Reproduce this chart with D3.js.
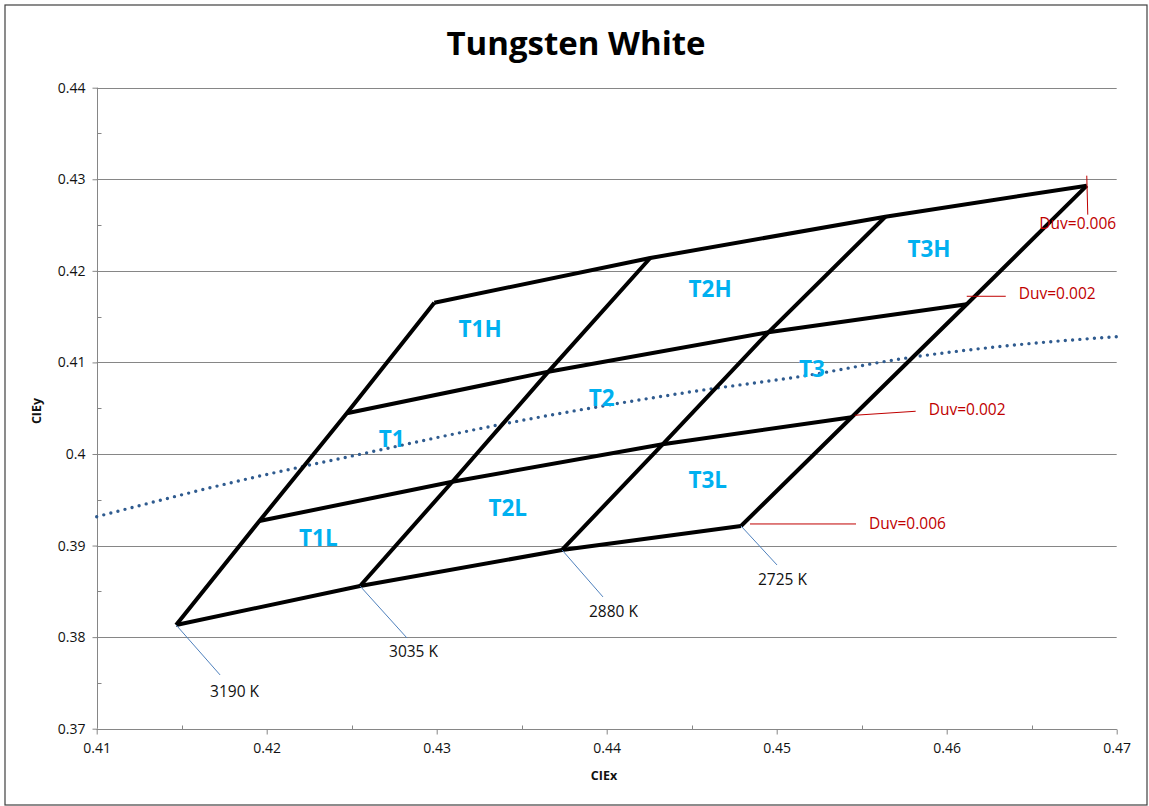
<!DOCTYPE html>
<html>
<head>
<meta charset="utf-8">
<script src="https://cdn.jsdelivr.net/npm/d3@7"></script>
<style>
  html, body { margin: 0; padding: 0; background: #fff; }
  svg { display: block; }
</style>
</head>
<body>
<svg id="chart" width="1149" height="806"></svg>
<script>
// ---- data ----
const title = "Tungsten White";
const xTicks = [0.41, 0.42, 0.43, 0.44, 0.45, 0.46, 0.47];
const xTickLabels = ["0.41", "0.42", "0.43", "0.44", "0.45", "0.46", "0.47"];
const yTicks = [0.37, 0.38, 0.39, 0.40, 0.41, 0.42, 0.43, 0.44];
const yTickLabels = ["0.37", "0.38", "0.39", "0.4", "0.41", "0.42", "0.43", "0.44"];

const ccts = ["3190 K", "3035 K", "2880 K", "2725 K"];
const duvRows = ["-0.006", "-0.002", "+0.002", "+0.006"];
// CIE x / y of grid vertices, rows = Duv, columns = CCT
const gridX = [
  [0.41467, 0.42549, 0.43737, 0.44790],
  [0.41957, 0.43092, 0.44329, 0.45441],
  [0.42471, 0.43657, 0.44951, 0.46118],
  [0.42986, 0.44256, 0.45639, 0.46824]
];
const gridY = [
  [0.38133, 0.38558, 0.38952, 0.39214],
  [0.39268, 0.39697, 0.40106, 0.40401],
  [0.40444, 0.40899, 0.41329, 0.41635],
  [0.41652, 0.42140, 0.42591, 0.42930]
];

// Planckian locus (dotted)
const locusX = [0.41, 0.41902, 0.42549, 0.43362, 0.44500, 0.45196, 0.45725, 0.46400, 0.47];
const locusY = [0.39315, 0.39735, 0.39997, 0.40317, 0.40680, 0.40863, 0.41037, 0.41190, 0.41281];

// bin labels
const binNames = ["T1H", "T2H", "T3H", "T1", "T2", "T3", "T1L", "T2L", "T3L"];
const binX = [0.43255, 0.44608, 0.45896, 0.42735, 0.43971, 0.45208, 0.42304, 0.43418, 0.44594];
const binY = [0.41362, 0.41802, 0.42235, 0.40160, 0.40608, 0.40928, 0.39079, 0.39407, 0.39716];

// Duv annotations
const duvLabels = ["Duv=0.006", "Duv=0.002", "Duv=0.002", "Duv=0.006"];

// ---- layout ----
const svg = d3.select("#chart");
const plot = { left: 96.7, right: 1116.7, top: 87.7, bottom: 728.7 };

const x = d3.scaleLinear().domain([0.41, 0.47]).range([plot.left, plot.right]);
const y = d3.scaleLinear().domain([0.37, 0.44]).range([plot.bottom, plot.top]);

const axisColor = "#868686";
const fontFam = "'Open Sans', 'Noto Sans', sans-serif";

// outer border
svg.append("rect")
  .attr("x", 5).attr("y", 5).attr("width", 1142).attr("height", 800)
  .attr("fill", "#fff").attr("stroke", "#404040").attr("stroke-width", 1.2);

// title
svg.append("text")
  .attr("x", 576).attr("y", 55)
  .attr("text-anchor", "middle")
  .attr("font-family", fontFam).attr("font-weight", 700).attr("font-size", 33)
  .attr("fill", "#000")
  .text(title);

// gridlines (horizontal)
svg.append("g").selectAll("line").data(yTicks).join("line")
  .attr("x1", plot.left).attr("x2", plot.right)
  .attr("y1", d => Math.round(y(d)) + 0.5).attr("y2", d => Math.round(y(d)) + 0.5)
  .attr("stroke", axisColor).attr("stroke-width", 1);

// y axis
const yAxis = d3.axisLeft(y).tickValues(yTicks)
  .tickFormat((d, i) => yTickLabels[i]).tickSize(5).tickPadding(7);
const gy = svg.append("g").attr("transform", `translate(${Math.round(plot.left) + 0.5},0)`).call(yAxis);
gy.select(".domain").attr("stroke", axisColor).attr("d", `M0,${plot.top}V${plot.bottom}`);
gy.selectAll(".tick line").attr("stroke", axisColor);
gy.selectAll(".tick text").attr("font-family", fontFam).attr("font-size", 14).attr("fill", "#111");
// y minor ticks (inside)
const yMinor = d3.range(0.375, 0.44, 0.01);
svg.append("g").selectAll("line").data(yMinor).join("line")
  .attr("x1", Math.round(plot.left) + 0.5).attr("x2", Math.round(plot.left) + 4.5)
  .attr("y1", d => Math.round(y(d)) + 0.5).attr("y2", d => Math.round(y(d)) + 0.5)
  .attr("stroke", axisColor);

// x axis
const xAxis = d3.axisBottom(x).tickValues(xTicks)
  .tickFormat((d, i) => xTickLabels[i]).tickSize(5).tickPadding(9);
const gx = svg.append("g").attr("transform", `translate(0,${Math.round(plot.bottom) + 0.5})`).call(xAxis);
gx.select(".domain").attr("stroke", axisColor).attr("d", `M${plot.left},0H${plot.right}`);
gx.selectAll(".tick line").attr("stroke", axisColor);
gx.selectAll(".tick text").attr("font-family", fontFam).attr("font-size", 14).attr("fill", "#111");
const xMinor = d3.range(0.415, 0.47, 0.01);
svg.append("g").selectAll("line").data(xMinor).join("line")
  .attr("x1", d => Math.round(x(d)) + 0.5).attr("x2", d => Math.round(x(d)) + 0.5)
  .attr("y1", Math.round(plot.bottom) + 0.5).attr("y2", Math.round(plot.bottom) - 3.5)
  .attr("stroke", axisColor);

// axis titles
svg.append("text")
  .attr("x", 604).attr("y", 780).attr("text-anchor", "middle")
  .attr("font-family", fontFam).attr("font-weight", 700).attr("font-size", 12.5)
  .attr("fill", "#111").text("CIEx");
svg.append("text")
  .attr("transform", "translate(41,411) rotate(-90)").attr("text-anchor", "middle")
  .attr("font-family", fontFam).attr("font-weight", 700).attr("font-size", 12.5)
  .attr("fill", "#111").text("CIEy");

// Planckian locus dotted line
const locusPts = locusX.map((v, i) => [v, locusY[i]]);
svg.append("path")
  .datum(locusPts)
  .attr("d", d3.line().x(d => x(d[0])).y(d => y(d[1])).curve(d3.curveMonotoneX))
  .attr("fill", "none").attr("stroke", "#2f5b8f").attr("stroke-width", 3.4)
  .attr("stroke-linecap", "round").attr("stroke-dasharray", "0 7.3");

// bin grid
const line = d3.line().x(d => x(d[0])).y(d => y(d[1]));
const rows = duvRows.map((_, r) => ccts.map((_, c) => [gridX[r][c], gridY[r][c]]));
const cols = ccts.map((_, c) => duvRows.map((_, r) => [gridX[r][c], gridY[r][c]]));
const gGrid = svg.append("g");
gGrid.selectAll("path.row").data(rows).join("path").attr("class", "row")
  .attr("d", line).attr("fill", "none").attr("stroke", "#000").attr("stroke-width", 4)
  .attr("stroke-linejoin", "miter").attr("stroke-linecap", "butt");
gGrid.selectAll("path.col").data(cols).join("path").attr("class", "col")
  .attr("d", line).attr("fill", "none").attr("stroke", "#000").attr("stroke-width", 4)
  .attr("stroke-linejoin", "miter").attr("stroke-linecap", "butt");

// bin labels
svg.append("g").selectAll("text").data(binNames).join("text")
  .attr("x", (d, i) => x(binX[i])).attr("y", (d, i) => y(binY[i]))
  .attr("dy", "0.36em").attr("text-anchor", "middle")
  .attr("font-family", fontFam).attr("font-weight", 700).attr("font-size", 22.5)
  .attr("fill", "#00b0f0").text(d => d);

// CCT callouts (bottom row vertices)
const cctOff = [
  { lx: 44, ly: 50, tx: 34, ty: 67 },
  { lx: 47, ly: 52, tx: 29, ty: 66 },
  { lx: 41, ly: 47, tx: 27, ty: 62 },
  { lx: 36, ly: 39, tx: 17, ty: 54 }
];
ccts.forEach((name, c) => {
  const px = x(gridX[0][c]), py = y(gridY[0][c]);
  const o = cctOff[c];
  svg.append("line").attr("x1", px).attr("y1", py).attr("x2", px + o.lx).attr("y2", py + o.ly)
    .attr("stroke", "#4f81bd").attr("stroke-width", 1);
  svg.append("text").attr("x", px + o.tx).attr("y", py + o.ty).attr("dy", "0.35em")
    .attr("font-family", fontFam).attr("font-size", 15.5).attr("fill", "#111").text(name);
});

// Duv callouts
const duvAnchor = [[0, 3], [1, 3], [2, 3], [3, 3]];
const duvOff = [
  { x1: 9, y1: -2, x2: 115, y2: -2, tx: 128, ty: -2, anchor: "start" },
  { x1: 3, y1: -2, x2: 64, y2: -6, tx: 77, ty: -8, anchor: "start" },
  { x1: 0, y1: -8, x2: 39, y2: -8, tx: 52, ty: -11, anchor: "start" },
  { x1: 0, y1: -10, x2: 1, y2: 29, tx: -9, ty: 38, anchor: "middle" }
];
duvLabels.forEach((lab, k) => {
  const [r, c] = duvAnchor[k];
  const px = x(gridX[r][c]), py = y(gridY[r][c]);
  const o = duvOff[k];
  svg.append("line").attr("x1", px + o.x1).attr("y1", py + o.y1).attr("x2", px + o.x2).attr("y2", py + o.y2)
    .attr("stroke", "#c00000").attr("stroke-width", 1);
  svg.append("text").attr("x", px + o.tx).attr("y", py + o.ty).attr("dy", "0.35em")
    .attr("text-anchor", o.anchor)
    .attr("font-family", fontFam).attr("font-size", 15.5).attr("fill", "#c00000").text(lab);
});
</script>
</body>
</html>
